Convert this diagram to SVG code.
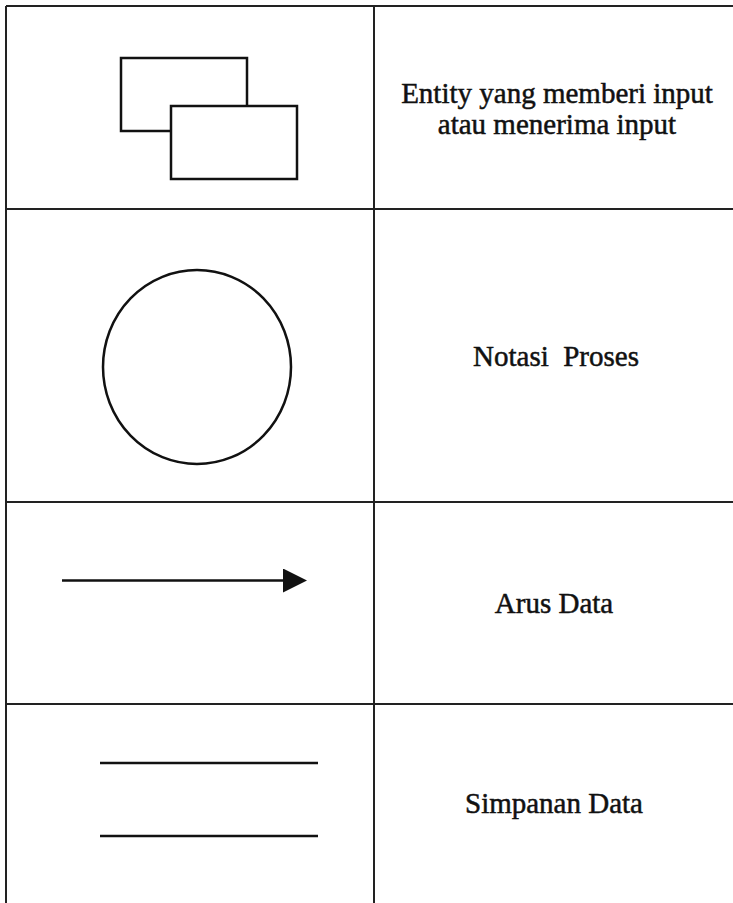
<svg xmlns="http://www.w3.org/2000/svg" width="733" height="903" viewBox="0 0 733 903">
<style>
.grid{stroke:#222;stroke-width:2;fill:none}
.shape{stroke:#111;stroke-width:2.5;fill:none}
.lbl{font-family:"Liberation Serif","Times New Roman",serif;font-size:29px;fill:#111;stroke:#111;stroke-width:0.5;text-anchor:middle;white-space:pre}
</style>
<defs>
<marker id="ah" markerUnits="userSpaceOnUse" markerWidth="24" markerHeight="24" viewBox="0 0 22 22" refX="0" refY="11" orient="auto">
<path d="M0,0 L22,11 L0,22 Z" fill="#111"/>
</marker>
</defs>
<rect width="733" height="903" fill="#fff"/>
<g id="table">
<line class="grid" x1="6" y1="6" x2="733" y2="6"/>
<line class="grid" x1="6" y1="6" x2="6" y2="903"/>
<line class="grid" x1="374" y1="6" x2="374" y2="903"/>
<line class="grid" x1="6" y1="209" x2="733" y2="209"/>
<line class="grid" x1="6" y1="502" x2="733" y2="502"/>
<line class="grid" x1="6" y1="704" x2="733" y2="704"/>
</g>
<g id="entity">
<rect class="shape" x="121" y="58" width="126" height="73"/>
<rect x="171" y="106" width="126" height="73" fill="#fff" stroke="#111" stroke-width="2.5"/>
<text class="lbl" x="557" y="103">Entity yang memberi input</text>
<text class="lbl" x="557" y="134">atau menerima input</text>
</g>
<g id="proses">
<ellipse class="shape" cx="197" cy="367" rx="94" ry="97"/>
<text class="lbl" x="556" y="366">Notasi  Proses</text>
</g>
<g id="connectors">
<line class="shape" x1="62" y1="580.5" x2="283" y2="580.5" stroke-width="3" marker-end="url(#ah)"/>
</g>
<g id="arus">
<text class="lbl" x="554" y="613">Arus Data</text>
</g>
<g id="simpanan">
<line class="shape" x1="100" y1="763" x2="318" y2="763"/>
<line class="shape" x1="100" y1="836" x2="318" y2="836"/>
<text class="lbl" x="554" y="813">Simpanan Data</text>
</g>
</svg>
